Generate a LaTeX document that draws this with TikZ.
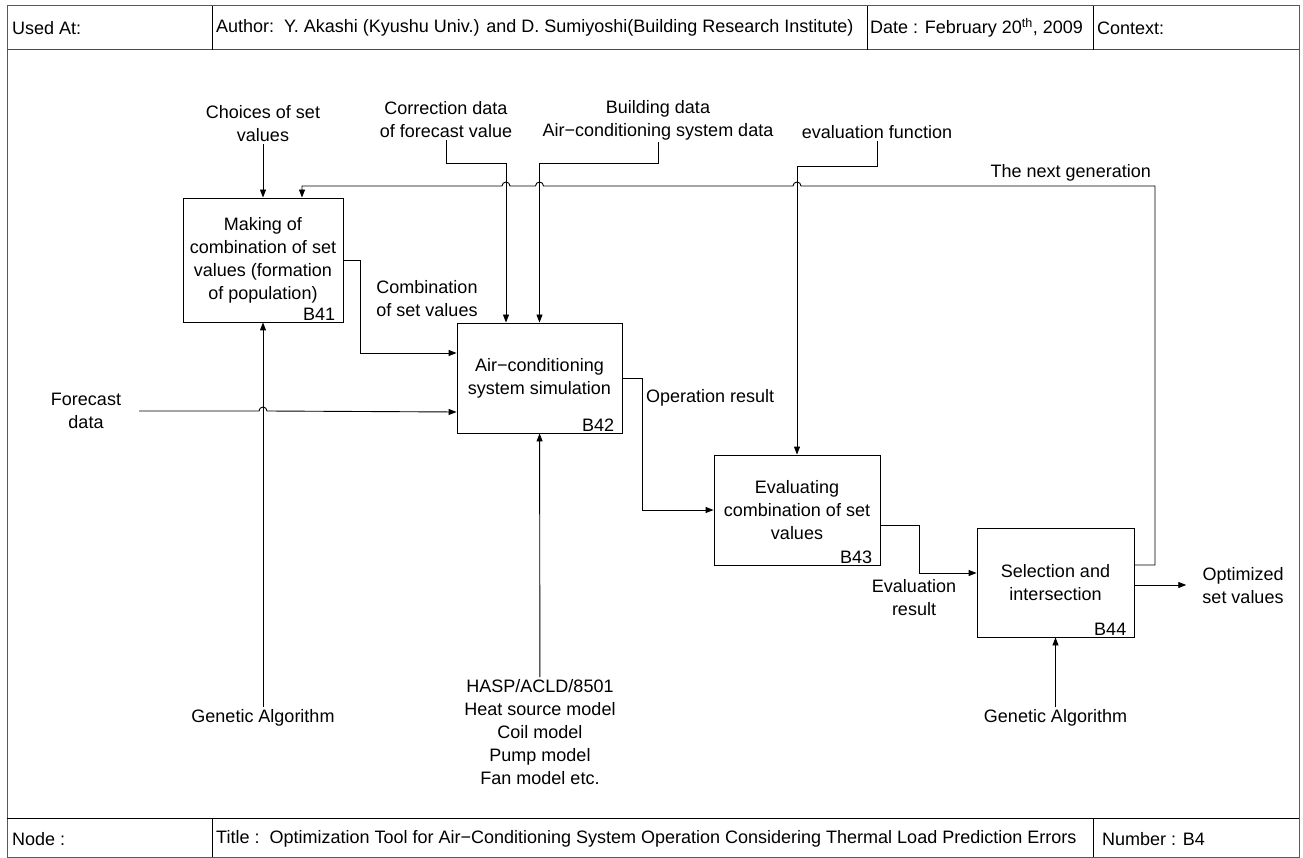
\documentclass[tikz,border=0pt]{standalone}
\usepackage{fontspec}
\setmainfont{Liberation Sans}
\usetikzlibrary{arrows.meta, positioning}

\begin{document}
\begin{tikzpicture}[x=1pt, y=-1pt,
    every node/.style={font=\fontsize{18}{23}\selectfont},
    box/.style={rectangle, draw, line width=0.9pt, align=center, inner sep=2pt},
    lbl/.style={align=center, inner sep=2pt},
    boxid/.style={anchor=south east, inner xsep=8pt, inner ysep=1.5pt},
    arr/.style={draw, line width=0.9pt, -{Triangle[length=8pt, width=6pt]}},
    rule/.style={line width=1pt}
]
\useasboundingbox (0,0) rectangle (1303,858);

% Form frame with header and footer rows
\draw[rule, black!65] (7,6) rectangle (1299,857);
\draw[rule, black!70] (7,50) -- (1299,50);
\draw[rule] (7,818) -- (1299,818);
\draw[rule] (212,6) -- (212,50);
\draw[rule] (867,6) -- (867,50);
\draw[rule] (1093,6) -- (1093,50);
\draw[rule] (212,818) -- (212,857);
\draw[rule] (1093,818) -- (1093,857);

\node[lbl, anchor=west] (usedat) at (10,28) {Used At:};
\node[lbl, anchor=west] (author) at (214,28) {Author:\ \ Y. Akashi (Kyushu Univ.) and D. Sumiyoshi(Building Research Institute)};
\node[lbl, anchor=west] (date) at (868,28) {Date : February 20\textsuperscript{th}, 2009};
\node[lbl, anchor=west] (context) at (1095,28) {Context:};
\node[lbl, anchor=west] (nodeno) at (10,839) {Node :};
\node[lbl, anchor=west] (title) at (214,839) {Title :\ \ Optimization Tool for Air−Conditioning System Operation Considering Thermal Load Prediction Errors};
\node[lbl, anchor=west] (number) at (1100,839) {Number : B4};

% Activity boxes
\node[box, minimum width=160pt, minimum height=124pt, label={[boxid]south east:B41}] (B41) at (263,260)
    {Making of\\combination of set\\values (formation\\of population)};
\node[box, minimum width=165pt, minimum height=110pt, label={[boxid]south east:B42}] (B42) at (539.5,378)
    {Air−conditioning\\system simulation};
\node[box, minimum width=166pt, minimum height=110pt, label={[boxid]south east:B43}] (B43) at (797,510)
    {Evaluating\\combination of set\\values};
\node[box, minimum width=157pt, minimum height=109pt, label={[boxid]south east:B44}] (B44) at (1055.5,582.5)
    {Selection and\\intersection};

% Inputs and controls (top)
\node[lbl] (choices) at (263,124) {Choices of set\\values};
\node[lbl] (corr) at (446,120) {Correction data\\of forecast value};
\node[lbl] (bldg) at (658,120) {Building data\\Air−conditioning system data};
\node[lbl] (evfn) at (877,132) {evaluation function};
\node[lbl] (forecast) at (86,411) {Forecast\\data};

% Mechanisms (bottom)
\node[lbl] (ga1) at (263,718) {Genetic Algorithm};
\node[lbl] (ga2) at (1055.5,718) {Genetic Algorithm};
\node[lbl] (hasp) at (540,732) {HASP/ACLD/8501\\Heat source model\\Coil model\\Pump model\\Fan model etc.};

% Arrow labels and output
\node[lbl] (comb) at (427,299) {Combination\\of set values};
\node[lbl, anchor=west] (oper) at (644,398) {Operation result};
\node[lbl] (evres) at (914,598) {Evaluation\\result};
\node[lbl] (optim) at (1243,586) {Optimized\\set values};
\node[lbl, anchor=south east] (nextgen) at (1153,183) {The next generation};

% Bend points
\coordinate (cr) at (506,163);
\coordinate (bd) at (539.5,163);
\coordinate (ev) at (797,166);
\coordinate (fb) at (1155,186);

% Controls into the boxes
\draw[arr] (choices) -- (B41);
\draw[arr] (corr.south) |- (cr) -- (cr |- B42.north);
\draw[arr] (bldg.south) |- (bd) -- (B42.north);
\draw[arr] (evfn.south) |- (ev) -- (B43.north);

% Feedback of the next generation, hopping over the control lines
\draw[arr] ([yshift=17.5pt]B44.east) -| (fb)
    -- ([xshift=4pt]B43.north |- fb) arc[start angle=0, end angle=180, radius=4pt]
    -- ([xshift=4pt]B42.north |- fb) arc[start angle=0, end angle=180, radius=4pt]
    -- ([xshift=4pt]cr |- fb) arc[start angle=0, end angle=180, radius=4pt]
    -- ([xshift=39pt]B41.north |- fb) -- ([xshift=39pt]B41.north);

% Flow between the boxes
\draw[arr] (B41.east) -- ++(17,0) |- ([yshift=25pt]B42.west);
\draw[arr, shorten <=16pt] (forecast.east) -- ([xshift=-4pt]B41.south |- forecast.east)
    arc[start angle=180, end angle=0, radius=4pt] -- ([yshift=-34pt]B42.west);
\draw[arr] (B42.east) -- ++(20,0) |- (B43.west);
\draw[arr] ([yshift=-15pt]B43.east) -- ++(39,0) |- ([yshift=9.5pt]B44.west);
\draw[arr, shorten >=14pt] ([yshift=-2.5pt]B44.east) -- ([yshift=-2.5pt]B44.east -| optim.west);

% Mechanisms
\draw[arr] (ga1) -- (B41);
\draw[arr] (ga2) -- (B44);
\draw[arr] (hasp) -- (B42);

\end{tikzpicture}
\end{document}
